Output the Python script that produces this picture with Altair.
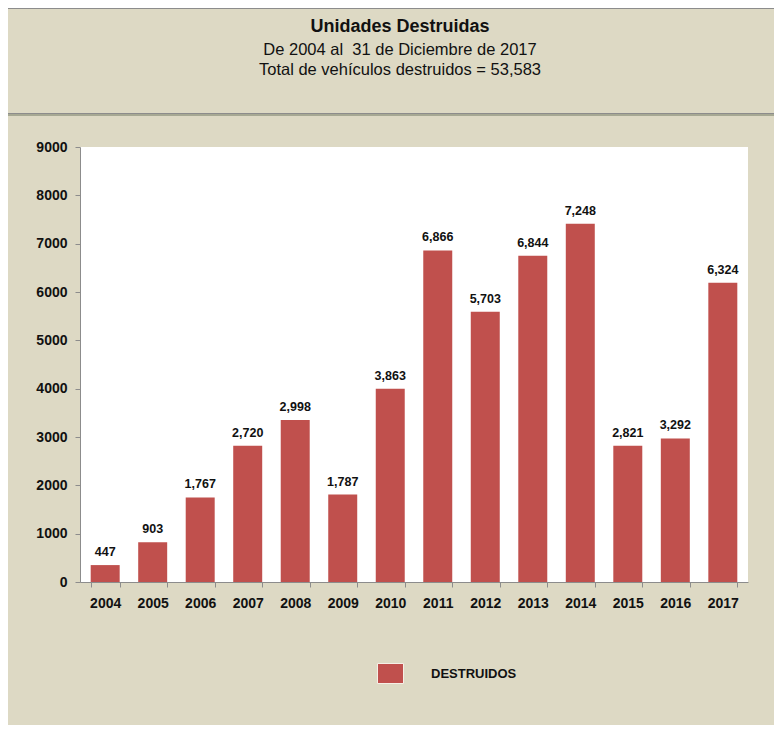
import altair as alt
import pandas as pd

years = ["2004", "2005", "2006", "2007", "2008", "2009", "2010",
         "2011", "2012", "2013", "2014", "2015", "2016", "2017"]
bar_values = [350, 820, 1750, 2820, 3350, 1810, 4000,
              6860, 5590, 6750, 7410, 2820, 2970, 6190]
labels = ["447", "903", "1,767", "2,720", "2,998", "1,787", "3,863",
          "6,866", "5,703", "6,844", "7,248", "2,821", "3,292", "6,324"]
series_name = "DESTRUIDOS"
title_text = "Unidades Destruidas"
subtitle_1 = "De 2004 al\u00a0 31 de Diciembre de 2017"
subtitle_2 = "Total de vehículos destruidos = 53,583"

df = pd.DataFrame({"year": years, "value": bar_values, "label": labels,
                   "serie": [series_name] * len(years)})
one = pd.DataFrame({"k": [0]})

BG = "#DDD9C4"
RED = "#C0504D"
W, H = 668, 435

base = alt.Chart(df)
deco = alt.Chart(one)

x_enc = alt.X("year:O", title=None,
              scale=alt.Scale(paddingInner=0.39, paddingOuter=0.225),
              axis=alt.Axis(labelAngle=0, labelFont="Liberation Sans", labelFontWeight="bold",
                            labelFontSize=14, labelColor="#111111", labelPadding=9,
                            tickBand="extent", tickSize=5, tickColor="#8C8C8C",
                            domainColor="#8C8C8C", grid=False, zindex=1))
y_enc = alt.Y("value:Q", title=None,
              scale=alt.Scale(domain=[0, 9000], nice=False),
              axis=alt.Axis(values=list(range(0, 9001, 1000)), format="d",
                            labelFont="Liberation Sans", labelFontWeight="bold",
                            labelFontSize=14, labelColor="#111111", labelPadding=8,
                            tickSize=5, tickColor="#8C8C8C", domainColor="#8C8C8C",
                            grid=False, zindex=1))

bars = base.mark_bar(color=RED).encode(
    x=x_enc, y=y_enc,
    color=alt.Color("serie:N", title=None,
                    scale=alt.Scale(range=[RED]),
                    legend=alt.Legend(orient="none", legendX=300, legendY=516,
                                      symbolType="M-1.3,-1H1.3V1H-1.3Z", symbolSize=400,
                                      symbolStrokeColor="#F5EFE6", symbolStrokeWidth=1,
                                      symbolOpacity=1,
                                      labelFont="Liberation Sans", labelFontWeight="bold",
                                      labelFontSize=13, labelColor="#111111",
                                      labelOffset=30, padding=0)),
)

text = base.mark_text(baseline="bottom", dy=-6, font="Liberation Sans",
                      fontWeight="bold", fontSize=12.5, color="#111111").encode(
    x="year:O", y="value:Q", text="label:N")

frame_top = deco.mark_rect(fill=None, stroke="#8C8C8C", strokeWidth=1).encode(
    x=alt.value(-72.5), x2=alt.value(710), y=alt.value(-138.5), y2=alt.value(-33.5))
sep = deco.mark_rule(stroke="#A6A893", strokeWidth=2).encode(
    x=alt.value(-72), x2=alt.value(710), y=alt.value(-32))
frame_left = deco.mark_rule(stroke="#A8A698", strokeWidth=1).encode(
    x=alt.value(-72.5), y=alt.value(-31), y2=alt.value(600))

t1 = deco.mark_text(font="Liberation Sans", fontWeight="bold", fontSize=18,
                    color="#111111", align="center", baseline="alphabetic").encode(
    x=alt.value(320), y=alt.value(-115), text=alt.value(title_text))
t2 = deco.mark_text(font="Liberation Sans", fontSize=16.5,
                    color="#111111", align="center", baseline="alphabetic").encode(
    x=alt.value(320), y=alt.value(-92), text=alt.value(subtitle_1))
t3 = deco.mark_text(font="Liberation Sans", fontSize=16.5,
                    color="#111111", align="center", baseline="alphabetic").encode(
    x=alt.value(320), y=alt.value(-72), text=alt.value(subtitle_2))

chart = alt.layer(frame_top, sep, frame_left, bars, text, t1, t2, t3).properties(
    width=W, height=H,
    padding={"left": 72, "top": 139, "right": 26, "bottom": 143},
    autosize=alt.AutoSizeParams(type="none"),
    background=BG,
).configure_view(fill="white", stroke=None)

chart.save("out.html", embed_options={"renderer": "svg", "actions": False})
